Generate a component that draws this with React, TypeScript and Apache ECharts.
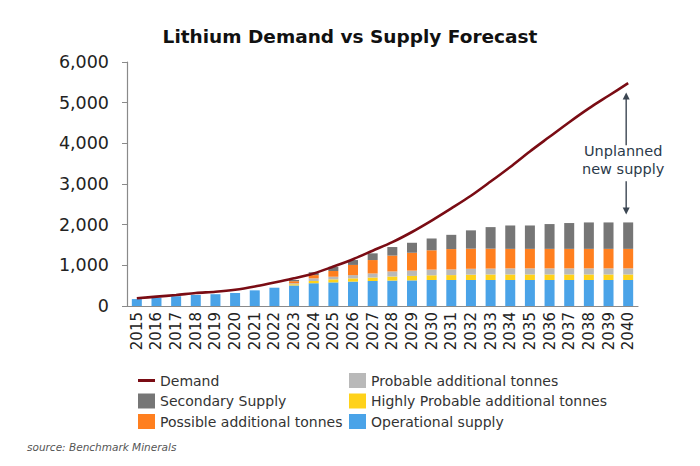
import React, { useEffect, useRef } from "react";
import * as echarts from "echarts";

const years = ["2015","2016","2017","2018","2019","2020","2021","2022","2023","2024","2025","2026","2027","2028","2029","2030","2031","2032","2033","2034","2035","2036","2037","2038","2039","2040"];
const demand = [190,230,270,320,350,400,480,580,680,800,970,1150,1360,1570,1820,2100,2400,2710,3060,3420,3800,4160,4520,4860,5170,5480];
const operational = [170,205,240,270,290,320,385,450,505,560,580,600,615,625,630,640,640,640,640,640,640,640,640,640,640,640];
const highlyProbable = [0,0,0,0,0,0,0,0,30,55,75,80,85,100,110,115,120,130,135,135,135,135,135,135,135,135];
const probable = [0,0,0,0,0,0,0,0,25,65,65,80,100,125,130,140,140,145,145,150,150,150,150,150,150,150];
const possible = [0,0,0,0,0,0,0,0,50,80,140,250,330,390,440,475,500,495,490,480,480,480,480,480,480,480];
const secondary = [0,0,0,0,0,0,0,0,30,70,105,120,165,210,245,290,350,450,530,575,575,610,635,650,650,650];
const yTicks = [0, 1000, 2000, 3000, 4000, 5000, 6000];
const arrowUp = [3950, 5250];
const arrowDown = [3070, 2250];
const annotationValue = 3580;

const FONT = "DejaVu Sans";

export default function App() {
  const ref = useRef<HTMLDivElement>(null);
  useEffect(() => {
    if (!ref.current) return;
    const chart = echarts.init(ref.current, null, { renderer: "svg" });
    const barSeries = (name: string, data: number[], color: string) => ({
      name,
      type: "bar",
      stack: "supply",
      data,
      barWidth: 10,
      itemStyle: { color },
      z: 2,
    });
    chart.setOption({
      animation: false,
      backgroundColor: "#ffffff",
      title: {
        text: "Lithium Demand vs Supply Forecast",
        left: "center",
        top: 22,
        textStyle: { fontFamily: FONT, fontSize: 18.5, fontWeight: "bold", color: "#111" },
      },
      grid: { left: 127, right: 62, top: 62, bottom: 160 },
      legend: [
        {
          orient: "vertical",
          left: 133,
          top: 368,
          itemWidth: 17,
          itemHeight: 15,
          itemGap: 5.5,
          textStyle: { fontFamily: FONT, fontSize: 14, color: "#333" },
          data: [
            { name: "Demand", icon: "path://M0,0 M0,6 L17,6 L17,9 L0,9 Z M17,15" },
            { name: "Secondary Supply", icon: "rect" },
            { name: "Possible additional tonnes", icon: "rect" },
          ],
        },
        {
          orient: "vertical",
          left: 344,
          top: 368,
          itemWidth: 17,
          itemHeight: 15,
          itemGap: 5.5,
          textStyle: { fontFamily: FONT, fontSize: 14, color: "#333" },
          data: [
            { name: "Probable additional tonnes", icon: "rect" },
            { name: "Highly Probable additional tonnes", icon: "rect" },
            { name: "Operational supply", icon: "rect" },
          ],
        },
      ],
      xAxis: {
        type: "category",
        data: years,
        boundaryGap: true,
        axisLine: { show: true, lineStyle: { color: "#8a8a8a", width: 1.2 } },
        axisTick: { show: false },
        axisLabel: { rotate: 90, margin: 6, fontFamily: FONT, fontSize: 15, color: "#222" },
      },
      yAxis: {
        type: "value",
        min: 0,
        max: 6000,
        interval: 1000,
        axisLine: { show: true, lineStyle: { color: "#8a8a8a", width: 1.2 } },
        axisTick: { show: true, length: 5, lineStyle: { color: "#8a8a8a" } },
        splitLine: { show: false },
        axisLabel: {
          margin: 18,
          fontFamily: FONT,
          fontSize: 17.5,
          color: "#222",
          formatter: (v: number) => (yTicks.includes(v) ? v.toLocaleString("en-US") : ""),
        },
      },
      series: [
        {
          name: "Demand",
          type: "line",
          data: demand,
          smooth: 0.3,
          symbol: "none",
          lineStyle: { color: "#7a0c14", width: 2.6 },
          itemStyle: { color: "#7a0c14" },
          z: 5,
        },
        barSeries("Operational supply", operational, "#4aa3e8"),
        barSeries("Highly Probable additional tonnes", highlyProbable, "#ffd21a"),
        barSeries("Probable additional tonnes", probable, "#b9b9b9"),
        barSeries("Possible additional tonnes", possible, "#ff7f1f"),
        barSeries("Secondary Supply", secondary, "#767676"),
      ],
    });

    const last = years[years.length - 1];
    const p = (v: number) => chart.convertToPixel({ xAxisIndex: 0, yAxisIndex: 0 }, [last, v]) as number[];
    const upA = p(arrowUp[0]);
    const upB = p(arrowUp[1]);
    const dnA = p(arrowDown[0]);
    const dnB = p(arrowDown[1]);
    const txt = p(annotationValue);
    const ax = upA[0] - 2;
    const arrowColor = "#3b4652";
    chart.setOption({
      graphic: [
        { type: "line", shape: { x1: ax, y1: upA[1], x2: ax, y2: upB[1] + 6 }, style: { stroke: arrowColor, lineWidth: 1.4 } },
        { type: "polygon", shape: { points: [[ax - 3.5, upB[1] + 7], [ax + 3.5, upB[1] + 7], [ax, upB[1]]] }, style: { fill: arrowColor } },
        { type: "line", shape: { x1: ax, y1: dnA[1], x2: ax, y2: dnB[1] - 6 }, style: { stroke: arrowColor, lineWidth: 1.4 } },
        { type: "polygon", shape: { points: [[ax - 3.5, dnB[1] - 7], [ax + 3.5, dnB[1] - 7], [ax, dnB[1]]] }, style: { fill: arrowColor } },
        {
          type: "text",
          x: ax - 3,
          y: txt[1],
          style: {
            text: "Unplanned\nnew supply",
            fontFamily: FONT,
            fontSize: 14.5,
            lineHeight: 18,
            fill: "#2b3a4a",
            align: "center",
            verticalAlign: "middle",
          },
        },
        {
          type: "text",
          left: 27,
          top: 441,
          style: { text: "source: Benchmark Minerals", fontFamily: FONT, fontSize: 10.5, fontStyle: "italic", fill: "#555" },
        },
      ],
    });
    return () => chart.dispose();
  }, []);
  return <div ref={ref} style={{ position: "absolute", left: 0, top: 0, width: 700, height: 466 }} />;
}
